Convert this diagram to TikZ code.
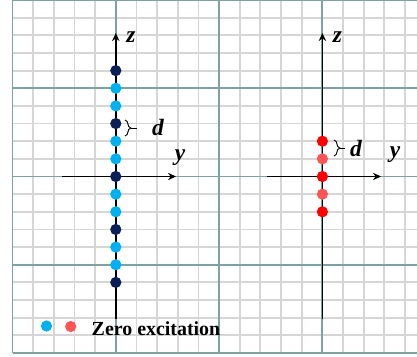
\documentclass[tikz,border=0pt]{standalone}
\usepackage{fontspec}
\setmainfont{Liberation Serif}
\usetikzlibrary{arrows.meta,decorations.pathreplacing}
\definecolor{navydot}{RGB}{12,32,88}
\definecolor{skydot}{RGB}{0,176,240}
\definecolor{reddot}{RGB}{255,0,0}
\definecolor{pinkdot}{RGB}{255,85,85}
\definecolor{minorline}{RGB}{214,214,214}
\definecolor{majorline}{RGB}{125,162,162}

\begin{document}
\begin{tikzpicture}[
  x=0.03cm, y=-0.03cm,
  minorgrid/.style={draw=minorline, line width=1.6pt},
  majorgrid/.style={draw=majorline, line width=1.6pt},
  axis/.style={-{Stealth[length=2.4mm, width=2.2mm]}, line width=1.2pt},
  site/.style={circle, inner sep=0pt, minimum size=9.6pt},
  lbl/.style={inner sep=0pt, font=\fontsize{20}{20}\selectfont\bfseries\itshape},
  gap/.style={decorate, decoration={brace, amplitude=5pt}, line width=0.8pt}
]
\useasboundingbox (0,0) rectangle (417,356);
% grid paper
\foreach \i in {0,...,19}
  \draw[minorgrid] (12.5+\i*20.66,0) -- (12.5+\i*20.66,353);
\foreach \j in {0,...,20}
  \draw[minorgrid] (12.5,\j*17.65) -- (417,\j*17.65);
\foreach \i in {0,5,10,15}
  \draw[majorgrid] (12.5+\i*20.66,0) -- (12.5+\i*20.66,353);
\foreach \j in {0,5,10,15,20}
  \draw[majorgrid] (12.5,\j*17.65) -- (417,\j*17.65);

% left chain
\coordinate (lbot) at (115.8,319);
\coordinate (ltop) at (115.8,33);
\coordinate (lleft) at (62,176.5);
\coordinate (lright) at (176,176.5);
\draw[axis] (lbot) -- (ltop);
\draw[axis] (lleft) -- (lright);
\foreach \k in {-6,-3,0,3,6}
  \node[site, fill=navydot] (ld\k) at (115.8,176.5+\k*17.65) {};
\foreach \k in {-5,-4,-2,-1,1,2,4,5}
  \node[site, fill=skydot] (ld\k) at (115.8,176.5+\k*17.65) {};
\coordinate (lb1) at (125,120);
\coordinate (lb2) at (125,136);
\coordinate (ltip) at (130.9,128);
\coordinate (ltick) at (137,128);
\draw[gap] (lb1) -- (lb2);
\draw[line width=0.8pt] (ltip) -- (ltick);
\node[lbl] (lz) at (131,37) {z};
\node[lbl] (ly) at (180,157.5) {y};
\node[lbl] (ld) at (158,127.5) {d};

% right chain
\coordinate (rbot) at (322.4,319);
\coordinate (rtop) at (322.4,33);
\coordinate (rleft) at (267,176.5);
\coordinate (rright) at (381,176.5);
\draw[axis] (rbot) -- (rtop);
\draw[axis] (rleft) -- (rright);
\foreach \k in {-2,0,2}
  \node[site, fill=reddot] (rd\k) at (322.4,176.5+\k*17.65) {};
\foreach \k in {-1,1}
  \node[site, fill=pinkdot] (rd\k) at (322.4,176.5+\k*17.65) {};
\coordinate (rb1) at (334,140);
\coordinate (rb2) at (334,156);
\coordinate (rtip) at (339.9,148);
\coordinate (rtick) at (345,148);
\draw[gap] (rb1) -- (rb2);
\draw[line width=0.8pt] (rtip) -- (rtick);
\node[lbl] (rz) at (337.5,37) {z};
\node[lbl] (ry) at (395,154.5) {y};
\node[lbl] (rdlab) at (356,148.5) {d};

% legend
\node[site, fill=skydot] (keyblue) at (46.5,326) {};
\node[site, fill=pinkdot] (keyred) at (70.7,326.5) {};
\node[anchor=base west, inner sep=0pt, font=\fontsize{17}{17}\selectfont\bfseries] (keytext) at (91.5,335) {Zero excitation};
\end{tikzpicture}
\end{document}
